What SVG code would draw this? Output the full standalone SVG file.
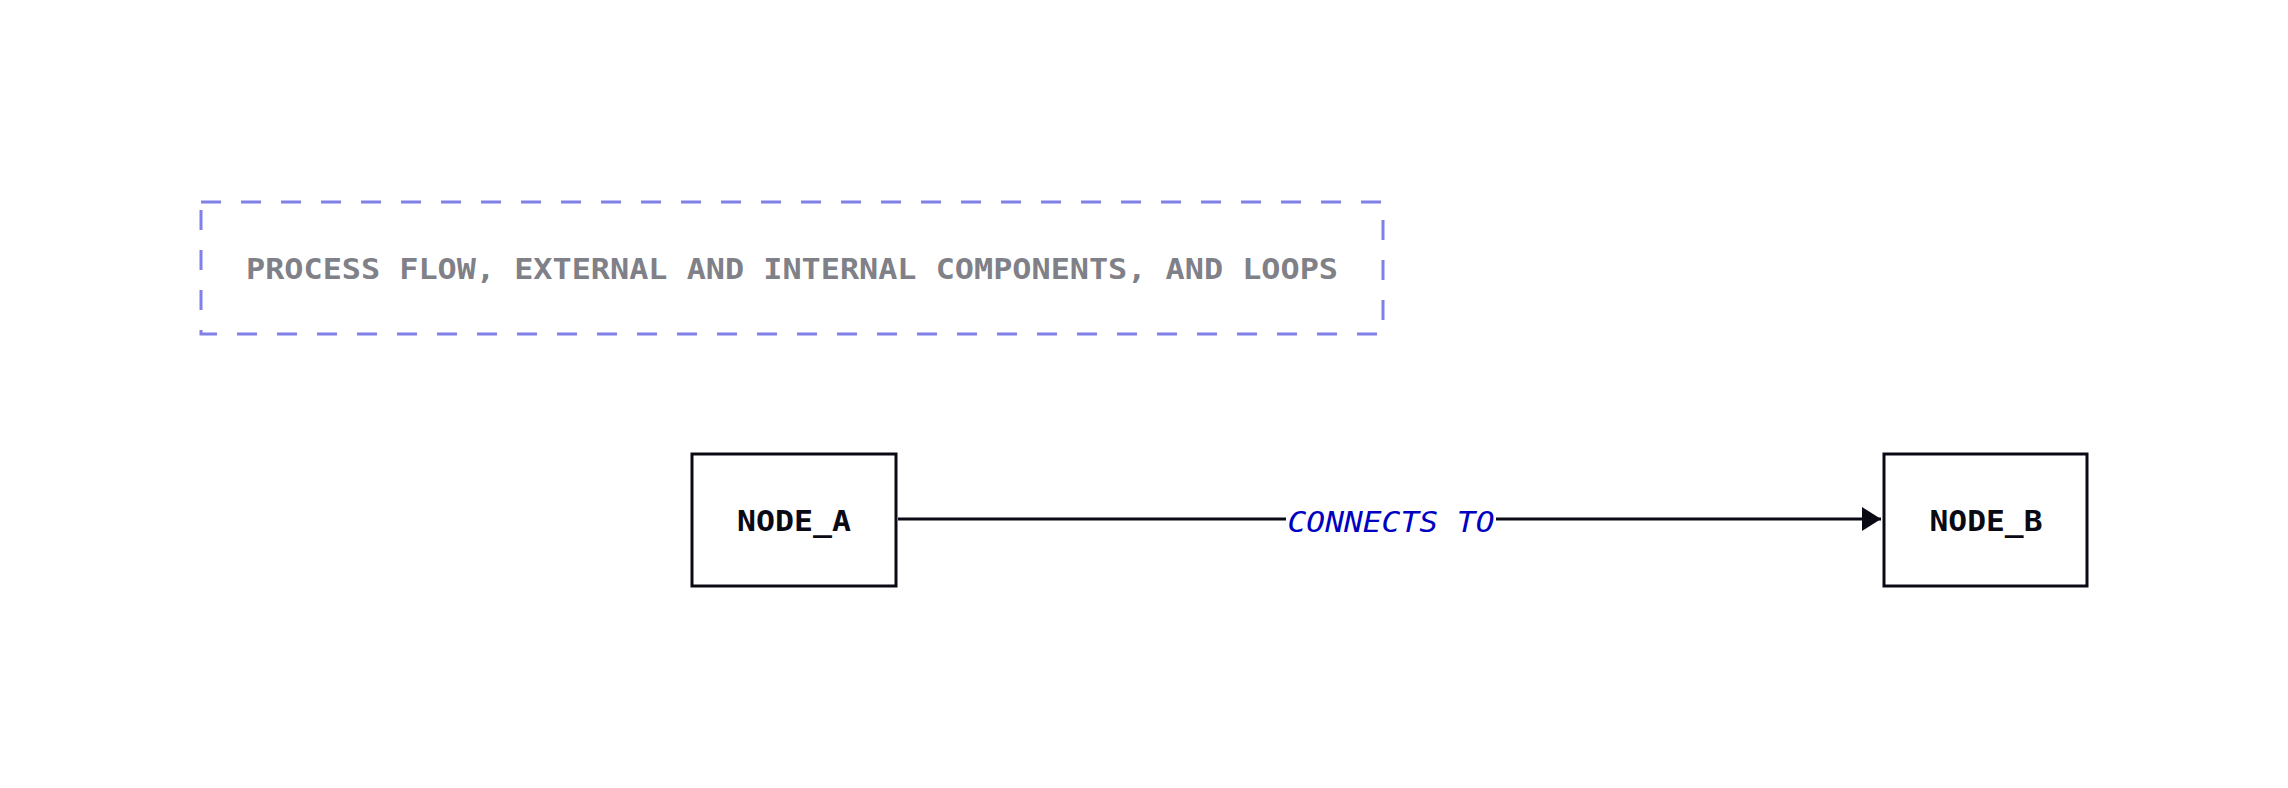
<svg xmlns="http://www.w3.org/2000/svg" width="2288" height="788" viewBox="0 0 2288 788">
<style>
.node rect{fill:#ffffff;stroke:#0a0a14;stroke-width:3}
.nlabel{font-family:"DejaVu Sans Mono","Liberation Mono",monospace;font-weight:bold;font-size:29px;fill:#0a0a14;text-anchor:middle}
.title{font-family:"DejaVu Sans Mono","Liberation Mono",monospace;font-weight:bold;font-size:28px;fill:#808088;text-anchor:middle}
.elabel{font-family:"DejaVu Sans Mono","Liberation Mono",monospace;font-style:italic;font-size:29px;fill:#0000c0;text-anchor:middle}
.edge{stroke:#0a0a14;stroke-width:3;fill:none}
</style>
<defs>
<marker id="arrow" markerWidth="20" markerHeight="24" refX="19" refY="12" orient="auto" markerUnits="userSpaceOnUse">
<path d="M0,0 L19,12 L0,24 Z" fill="#0a0a14"/>
</marker>
</defs>
<rect width="2288" height="788" fill="#ffffff"/>
<g id="title">
<rect x="201" y="202" width="1182" height="132" fill="none" stroke="#8080ea" stroke-width="3" stroke-dasharray="20 20"/>
<text class="title" x="792" y="279" textLength="1092" lengthAdjust="spacingAndGlyphs">PROCESS FLOW, EXTERNAL AND INTERNAL COMPONENTS, AND LOOPS</text>
</g>
<g id="connectors">
<line class="edge" x1="898" y1="519" x2="1881" y2="519" marker-end="url(#arrow)"/>
<rect x="1286" y="500" width="210" height="40" fill="#ffffff"/>
<text class="elabel" x="1391" y="532" textLength="207" lengthAdjust="spacingAndGlyphs">CONNECTS TO</text>
</g>
<g id="node_a" class="node">
<rect x="692" y="454" width="204" height="132"/>
<text class="nlabel" x="794" y="531" textLength="114" lengthAdjust="spacingAndGlyphs">NODE_A</text>
</g>
<g id="node_b" class="node">
<rect x="1884" y="454" width="203" height="132"/>
<text class="nlabel" x="1986" y="531" textLength="113" lengthAdjust="spacingAndGlyphs">NODE_B</text>
</g>
</svg>
